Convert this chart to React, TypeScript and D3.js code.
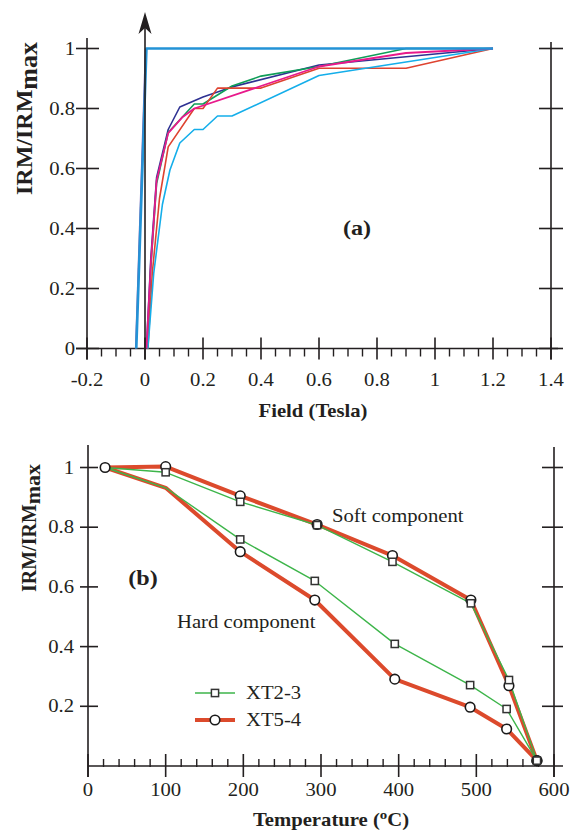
import React from "react";
import * as d3 from "d3";

// ---- panel (a): IRM acquisition, field in Tesla ----
const topXTicks = [-0.2, 0, 0.2, 0.4, 0.6, 0.8, 1, 1.2, 1.4];
const topXLabels = ["-0.2", "0", "0.2", "0.4", "0.6", "0.8", "1", "1.2", "1.4"];
const topYTicks = [0, 0.2, 0.4, 0.6, 0.8, 1];
const topYLabels = ["0", "0.2", "0.4", "0.6", "0.8", "1"];

const navyField = [0.005, 0.02, 0.04, 0.08, 0.12, 0.2, 0.3, 0.6, 1.2];
const navyIRM = [0, 0.3, 0.57, 0.73, 0.805, 0.838, 0.872, 0.945, 1];
const greenField = [0.01, 0.02, 0.04, 0.08, 0.17, 0.2, 0.3, 0.4, 0.6, 0.9, 1.2];
const greenIRM = [0, 0.27, 0.55, 0.72, 0.815, 0.815, 0.875, 0.908, 0.94, 1, 1];
const redField = [0.01, 0.025, 0.05, 0.08, 0.17, 0.2, 0.25, 0.4, 0.6, 0.9, 1.2];
const redIRM = [0, 0.25, 0.5, 0.672, 0.8, 0.8, 0.868, 0.868, 0.934, 0.934, 1];
const magentaField = [0.005, 0.02, 0.04, 0.08, 0.13, 0.17, 0.6, 0.9, 1.2];
const magentaIRM = [0, 0.28, 0.56, 0.718, 0.772, 0.8, 0.94, 0.985, 1];
const cyanField = [0.01, 0.03, 0.06, 0.086, 0.12, 0.17, 0.2, 0.25, 0.3, 0.6, 1.2];
const cyanIRM = [0, 0.25, 0.48, 0.595, 0.685, 0.73, 0.73, 0.775, 0.775, 0.91, 1];
const purpleField = [-0.032, 0.002];
const purpleIRM = [0, 1];
const blueField = [-0.03, 0.005, 1.2];
const blueIRM = [0, 1, 1];

// ---- panel (b): thermal demagnetisation ----
const botXTicks = [0, 100, 200, 300, 400, 500, 600];
const botYTicks = [0.2, 0.4, 0.6, 0.8, 1];
const botYLabels = ["0.2", "0.4", "0.6", "0.8", "1"];

const tempsSoft = [22, 100, 196, 295, 392, 493, 542, 578];
const xt23Soft = [1, 0.984, 0.885, 0.807, 0.684, 0.545, 0.288, 0.018];
const xt54Soft = [1, 1.003, 0.905, 0.809, 0.705, 0.556, 0.269, 0.018];
const tempsHard = [22, 100, 196, 292, 395, 492, 539, 578];
const xt23Hard = [1, 0.932, 0.759, 0.62, 0.409, 0.271, 0.191, 0.018];
const xt54Hard = [1, 0.932, 0.718, 0.556, 0.291, 0.197, 0.124, 0.018];

const FONT = "'Liberation Serif', 'Times New Roman', serif";
const AX = "#231f20";
const SX = 1.15;

function T({ x, y, size = 18, bold = false, anchor = "middle", children }: any) {
  return (
    <text
      transform={`translate(${x},${y}) scale(${SX},1)`}
      textAnchor={anchor}
      fontSize={size}
      fontWeight={bold ? "bold" : "normal"}
      fontFamily={FONT}
      fill={AX}
    >
      {children}
    </text>
  );
}

const zip = (xs: number[], ys: number[]) => xs.map((v, i) => [v, ys[i]] as [number, number]);

export default function App() {
  // scales
  const xa = d3.scaleLinear().domain([-0.2, 1.4]).range([87, 551]);
  const ya = d3.scaleLinear().domain([0, 1]).range([348.5, 48.5]);
  const xb = d3.scaleLinear().domain([0, 600]).range([88, 554]);
  const yb = d3.scaleLinear().domain([0, 1]).range([766, 467.5]);

  const lineA = d3.line<[number, number]>().x((d) => xa(d[0])).y((d) => ya(d[1]));
  const lineB = d3.line<[number, number]>().x((d) => xb(d[0])).y((d) => yb(d[1]));

  const topMinor = d3.range(-0.2, 1.4001, 0.05).filter((v) => Math.abs(v * 5 - Math.round(v * 5)) > 1e-6);
  const botMinor = d3.range(0, 600.1, 20).filter((v) => v % 100 !== 0);

  const topCurves = [
    { xs: purpleField, ys: purpleIRM, color: "#7b62b3", w: 1.6 },
    { xs: navyField, ys: navyIRM, color: "#2e3192", w: 1.6 },
    { xs: greenField, ys: greenIRM, color: "#0f9d58", w: 1.6 },
    { xs: redField, ys: redIRM, color: "#de4330", w: 1.6 },
    { xs: cyanField, ys: cyanIRM, color: "#14aeea", w: 1.6 },
    { xs: magentaField, ys: magentaIRM, color: "#e8198b", w: 1.8 },
    { xs: blueField, ys: blueIRM, color: "#2393d6", w: 2.6 },
  ];

  const red = "#dc4a2c";
  const green = "#3db54a";

  const sq = (cx: number, cy: number, key: string) => (
    <rect key={key} x={cx - 3.6} y={cy - 3.6} width={7.2} height={7.2} fill="#fff" stroke="#333" strokeWidth={1.5} />
  );
  const circ = (cx: number, cy: number, key: string) => (
    <circle key={key} cx={cx} cy={cy} r={4.8} fill="#fff" stroke="#1a1a1a" strokeWidth={1.6} />
  );

  return (
    <svg
      width={577}
      height={831}
      style={{ position: "absolute", left: 0, top: 0, background: "#fff" }}
    >
      {/* ================= panel (a) ================= */}
      <g>
        {/* axes */}
        <line x1={76} x2={558} y1={ya(0)} y2={ya(0)} stroke={AX} strokeWidth={1.6} />
        <line x1={xa(-0.2)} x2={xa(-0.2)} y1={38} y2={ya(0) + 11} stroke={AX} strokeWidth={1.6} />
        <line x1={xa(1.4)} x2={xa(1.4)} y1={42} y2={ya(0) + 11} stroke={AX} strokeWidth={1.6} />
        {topYTicks.map((v) => (
          <g key={"ay" + v}>
            <line x1={xa(-0.2) - 11} x2={xa(-0.2) + 12} y1={ya(v)} y2={ya(v)} stroke={AX} strokeWidth={1.6} />
            <line x1={xa(1.4) - 12} x2={xa(1.4) + 12} y1={ya(v)} y2={ya(v)} stroke={AX} strokeWidth={1.6} />
          </g>
        ))}
        {topXTicks.map((v) => (
          <line key={"ax" + v} x1={xa(v)} x2={xa(v)} y1={ya(0) - 11} y2={ya(0) + 11} stroke={AX} strokeWidth={1.6} />
        ))}
        {topMinor.map((v) => (
          <line key={"am" + v} x1={xa(v)} x2={xa(v)} y1={ya(0)} y2={ya(0) + 8} stroke={AX} strokeWidth={1.4} />
        ))}
        {topYLabels.map((l, i) => (
          <T key={"ayl" + l} x={75} y={ya(topYTicks[i]) + 6} anchor="end">
            {l}
          </T>
        ))}
        {topXLabels.map((l, i) => (
          <T key={"axl" + l} x={xa(topXTicks[i])} y={386}>
            {l}
          </T>
        ))}
        <T x={313} y={417} bold>
          Field (Tesla)
        </T>
        <text
          transform="translate(32,195) rotate(-90)"
          fontFamily={FONT}
          fontWeight="bold"
          fontSize={24}
          fill={AX}
        >
          IRM/IRM
          <tspan fontSize={26} dy={5}>
            max
          </tspan>
        </text>
        <T x={357} y={235} size={21} bold>
          (a)
        </T>

        {/* curves */}
        {topCurves.map((c, i) => (
          <path
            key={"c" + i}
            d={lineA(zip(c.xs, c.ys)) || ""}
            fill="none"
            stroke={c.color}
            strokeWidth={c.w}
            strokeLinejoin="round"
          />
        ))}

        {/* arrow on the zero-field line */}
        <line x1={xa(0)} x2={xa(0)} y1={ya(0) + 11} y2={26} stroke={AX} strokeWidth={1.6} />
        <path
          d={`M${xa(0)},12 L${xa(0) + 6.5},34 L${xa(0)},28 L${xa(0) - 6.5},34 Z`}
          fill={AX}
        />
      </g>

      {/* ================= panel (b) ================= */}
      <g>
        <line x1={xb(0)} x2={563} y1={yb(0)} y2={yb(0)} stroke={AX} strokeWidth={1.6} />
        <line x1={xb(0)} x2={xb(0)} y1={445} y2={yb(0) + 11} stroke={AX} strokeWidth={1.6} />
        <line x1={xb(600)} x2={xb(600)} y1={447} y2={yb(0) + 11} stroke={AX} strokeWidth={1.6} />
        {botYTicks.map((v) => (
          <g key={"by" + v}>
            <line x1={xb(0) - 8} x2={xb(0) + 10} y1={yb(v)} y2={yb(v)} stroke={AX} strokeWidth={1.6} />
            <line x1={xb(600) - 12} x2={xb(600) + 9} y1={yb(v)} y2={yb(v)} stroke={AX} strokeWidth={1.6} />
          </g>
        ))}
        {botXTicks.map((v) => (
          <line key={"bx" + v} x1={xb(v)} x2={xb(v)} y1={yb(0) - 12} y2={yb(0) + 11} stroke={AX} strokeWidth={1.6} />
        ))}
        {botMinor.map((v) => (
          <line key={"bm" + v} x1={xb(v)} x2={xb(v)} y1={yb(0) - 7} y2={yb(0) + 1} stroke={AX} strokeWidth={1.4} />
        ))}
        {botYLabels.map((l, i) => (
          <T key={"byl" + l} x={74} y={yb(botYTicks[i]) + 6} anchor="end">
            {l}
          </T>
        ))}
        {botXTicks.map((v) => (
          <T key={"bxl" + v} x={xb(v)} y={796}>
            {String(v)}
          </T>
        ))}
        <T x={331} y={826} bold>
          Temperature (
          <tspan fontSize={13} dy={-7}>
            o
          </tspan>
          <tspan dy={7}>C)</tspan>
        </T>
        <text
          transform="translate(36,592) rotate(-90)"
          fontFamily={FONT}
          fontWeight="bold"
          fontSize={20}
          fill={AX}
        >
          IRM/IRM
          <tspan fontSize={22} dy={4}>
            max
          </tspan>
        </text>
        <T x={143} y={585} size={21} bold>
          (b)
        </T>
        <T x={332} y={522} anchor="start">
          Soft component
        </T>
        <T x={177} y={628} anchor="start">
          Hard component
        </T>

        {/* lines */}
        <path d={lineB(zip(tempsSoft, xt54Soft)) || ""} fill="none" stroke={red} strokeWidth={4} strokeLinejoin="round" />
        <path d={lineB(zip(tempsHard, xt54Hard)) || ""} fill="none" stroke={red} strokeWidth={4} strokeLinejoin="round" />
        <path d={lineB(zip(tempsSoft, xt23Soft)) || ""} fill="none" stroke={green} strokeWidth={1.4} strokeLinejoin="round" />
        <path d={lineB(zip(tempsHard, xt23Hard)) || ""} fill="none" stroke={green} strokeWidth={1.4} strokeLinejoin="round" />

        {/* markers */}
        {tempsSoft.map((t, i) => circ(xb(t), yb(xt54Soft[i]), "cs" + i))}
        {tempsHard.map((t, i) => (i > 1 ? circ(xb(t), yb(xt54Hard[i]), "ch" + i) : null))}
        {tempsSoft.map((t, i) => (i > 0 ? sq(xb(t), yb(xt23Soft[i]), "ss" + i) : null))}
        {tempsHard.map((t, i) => (i > 1 && i < tempsHard.length - 1 ? sq(xb(t), yb(xt23Hard[i]), "sh" + i) : null))}

        {/* legend */}
        <line x1={195} x2={235} y1={693} y2={693} stroke={green} strokeWidth={1.6} />
        {sq(215, 693, "lg1")}
        <T x={246} y={699} anchor="start">
          XT2-3
        </T>
        <line x1={195} x2={235} y1={720} y2={720} stroke={red} strokeWidth={4} />
        {circ(215, 720, "lg2")}
        <T x={246} y={726} anchor="start">
          XT5-4
        </T>
      </g>
    </svg>
  );
}
